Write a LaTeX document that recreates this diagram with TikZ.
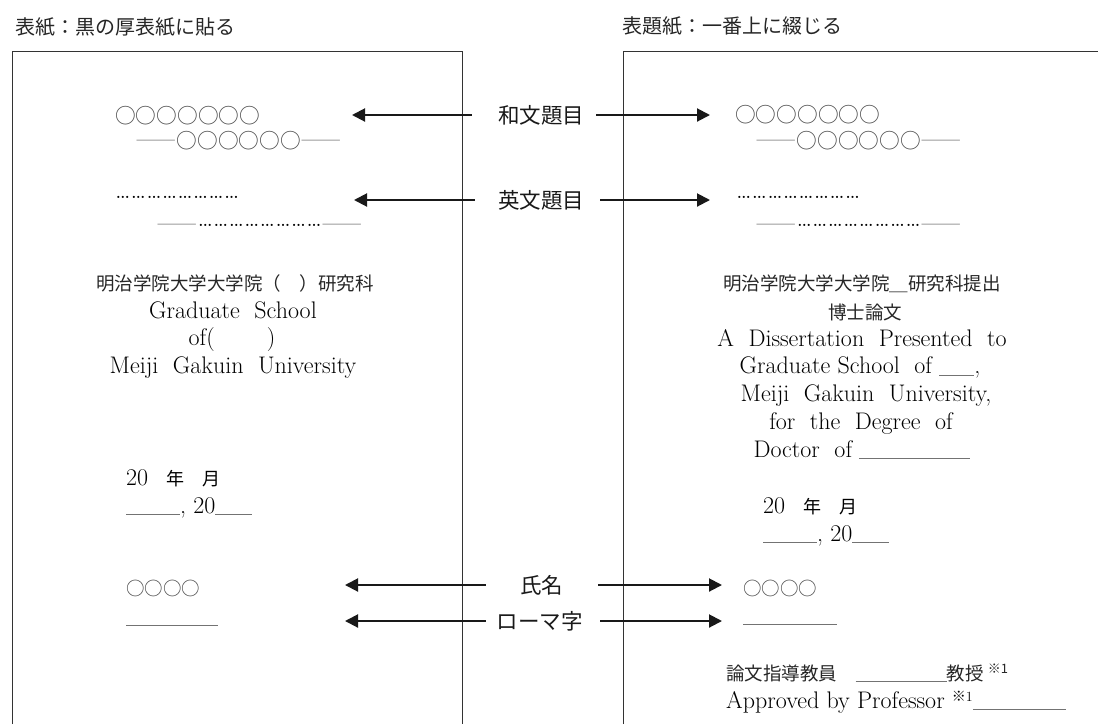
\documentclass[tikz,border=0pt]{standalone}
\usepackage{fontspec}
\newfontfamily\cjk{Noto Sans CJK JP}
\usetikzlibrary{arrows.meta,positioning}
\newcommand{\jpt}{\cjk\fontsize{18}{18}\selectfont}
\newcommand{\dotrun}{\rmfamily\fontsize{26.6}{26.6}\selectfont}
\newcommand{\blank}[1]{\textcolor{black!55}{\rule[-2pt]{#1}{0.6pt}}}
\tikzset{
  head/.style={font=\cjk\fontsize{20}{20}\selectfont, anchor=base west, inner sep=0pt, text=black!85},
  lbl/.style={font=\cjk\fontsize{21.5}{21.5}\selectfont, inner sep=0pt, text height=18.9pt, text depth=2.6pt, text=black!90},
  jp/.style={font=\cjk\fontsize{18.5}{18.5}\selectfont, inner sep=0pt, text=black!85},
  en/.style={font=\fontsize{24}{24}\selectfont, inner sep=0pt, text=black},
  circ/.style={font=\cjk\fontsize{20.7}{20.7}\selectfont, inner sep=0pt, anchor=base west, text=black!70},
  page/.style={line width=0.9pt, draw=black!80},
  arr/.style={-{Triangle[length=13pt,width=13pt]}, line width=2pt, draw=black!90},
}

\begin{document}
\begin{tikzpicture}[x=1pt,y=-1pt]
        \useasboundingbox (0,0) rectangle (1098,724);
        \draw[page] (12,724) -- (12,51) -- (462,51) -- (462,724);
        \draw[page] (623,724) -- (623,51) -- (1098,51);
        \node[head] (coverHead) at (15,34.6) {表紙：黒の厚表紙に貼る};
        \node[head] (titleHead) at (622,33.6) {表題紙：一番上に綴じる};
        % cover
        \node[circ] (cJa1) at (115,123.7) {○○○○○○○};
        \node[circ] (cJa2) at (135,148.8) {\textcolor{black!45}{――}○○○○○○\textcolor{black!45}{――}};
        \node[circ, text=black] (cEn1) at (115,198.5) {\dotrun ……………………};
        \node[circ] (cEn2) at (156,232.8) {\textcolor{black!45}{――}\raisebox{6.3pt}{\color{black}\dotrun ……………………}\textcolor{black!45}{――}};
        \node[jp, anchor=base] (cSchool) at (235,290) {明治学院大学大学院（　）研究科};
        \node[en, anchor=base] (cGrad) at (233,318) {Graduate~~School};
        \node[en, anchor=base] (cOf) at (232,345.5) {of(\hspace{52pt})};
        \node[en, anchor=base] (cUniv) at (233,373) {Meiji~~Gakuin~~University};
        \node[en, anchor=base west] (cDate) at (126,485) {20{\jpt 　年　月}};
        \node[en, anchor=base west] (cDateEn) at (126,513) {\blank{54pt}, 20\blank{37pt}};
        \node[jp, anchor=base west, text=black!70] (cName) at (126,595) {○○○○};
        \node[anchor=base west, inner sep=0pt] (cRoman) at (126,624) {\blank{92pt}};
        % title page
        \node[circ] (tJa1) at (735,122.7) {○○○○○○○};
        \node[circ] (tJa2) at (755,148.8) {\textcolor{black!45}{――}○○○○○○\textcolor{black!45}{――}};
        \node[circ, text=black] (tEn1) at (736,198.5) {\dotrun ……………………};
        \node[circ] (tEn2) at (755,232.8) {\textcolor{black!45}{――}\raisebox{6.3pt}{\color{black}\dotrun ……………………}\textcolor{black!45}{――}};
        \node[jp, anchor=base] (tSchool) at (862,290) {明治学院大学大学院＿研究科提出};
        \node[jp, anchor=base] (tDoctor) at (865,319) {博士論文};
        \node[en, anchor=base] (tDiss) at (862,346) {A~~Dissertation~~Presented~~to};
        \node[en, anchor=base] (tGrad) at (860,373.5) {Graduate School~~of \blank{35pt},};
        \node[en, anchor=base] (tUniv) at (866,401) {Meiji~~Gakuin~~University,};
        \node[en, anchor=base] (tDeg) at (861,429) {for~~the~~Degree~~of};
        \node[en, anchor=base] (tDoc) at (862,457) {Doctor~~of \blank{111pt}};
        \node[en, anchor=base west] (tDate) at (763,513) {20{\jpt 　年　月}};
        \node[en, anchor=base west] (tDateEn) at (763,541) {\blank{54pt}, 20\blank{37pt}};
        \node[jp, anchor=base west, text=black!70] (tName) at (743,595) {○○○○};
        \node[anchor=base west, inner sep=0pt] (tRoman) at (743,623) {\blank{94pt}};
        \node[jp, anchor=base west] (tProf) at (726,680) {論文指導教員　\blank{91pt}教授 \textsuperscript{※1}};
        \node[en, anchor=base west] (tAppr) at (726,708) {Approved by Professor {\fontsize{14}{14}\selectfont\raisebox{7pt}{{\cjk ※}1}}\blank{93pt}};
        % labels
        \node[lbl] (wabun) at (541,115) {和文題目};
        \node[lbl] (eibun) at (541,200) {英文題目};
        \node[lbl] (shimei) at (541.5,585) {氏名};
        \node[lbl] (romaji) at (539.5,621) {ローマ字};
        \coordinate (wabunL) at (352,115);
        \coordinate (wabunR) at (710,115);
        \coordinate (eibunL) at (354,200);
        \coordinate (eibunR) at (710,200);
        \coordinate (shimeiL) at (345,585);
        \coordinate (shimeiR) at (722,585);
        \coordinate (romajiL) at (345,621);
        \coordinate (romajiR) at (722,621);
        \foreach \n/\a/\b in {wabun/26/12, eibun/23/16, shimei/34/35, romaji/10.5/17.5} {
                \draw[arr, shorten <=\a pt] (\n) -- (\n L);
                \draw[arr, shorten <=\b pt] (\n) -- (\n R);
        }
\end{tikzpicture}
\end{document}
